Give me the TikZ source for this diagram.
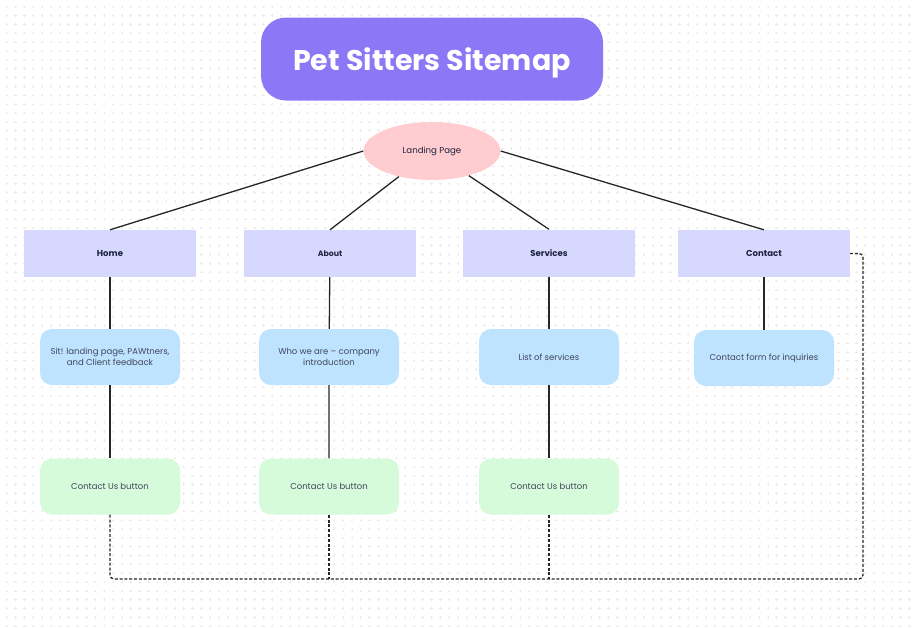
\documentclass[tikz,border=0pt]{standalone}
\usepackage{fontspec}
\setmainfont{Poppins}
\usetikzlibrary{shapes,positioning,calc}

\definecolor{titlebg}{HTML}{8C77F7}
\definecolor{landbg}{HTML}{FFCCD0}
\definecolor{pagebg}{HTML}{D6D8FE}
\definecolor{infobg}{HTML}{BEE3FE}
\definecolor{btnbg}{HTML}{D5FBDA}
\definecolor{gridcol}{HTML}{EAEAEA}
\definecolor{inktext}{HTML}{1F2340}

\begin{document}
\begin{tikzpicture}[x=1pt,y=-1pt]
  \tikzset{
    sitetitle/.style={rectangle,rounded corners=25pt,fill=titlebg,minimum width=342pt,minimum height=83pt,text depth=0pt,text=white,font=\fontsize{28.5}{32}\selectfont\bfseries},
    landing/.style={ellipse,fill=landbg,minimum width=137pt,minimum height=58pt,inner sep=0pt,font=\fontsize{8.6}{10}\selectfont,text=inktext},
    page/.style={rectangle,fill=pagebg,minimum width=172pt,minimum height=47pt,font=\fontsize{8.6}{10}\selectfont\bfseries,text=inktext},
    info/.style={rectangle,rounded corners=12pt,fill=infobg,minimum width=140pt,minimum height=56pt,align=center,font=\fontsize{8.5}{11}\selectfont,text=inktext!85},
    btn/.style={info,fill=btnbg},
    link/.style={draw=black!85,line width=1.3pt},
    dashlink/.style={draw=black!85,line width=1.3pt,dash pattern=on 3pt off 1.8pt,rounded corners=4pt}
  }
  \useasboundingbox (0,0) rectangle (912,627);
  % dotted paper
  \foreach \j in {0,...,70}
    \draw[gridcol,line width=0.5pt,dash pattern=on 2.4pt off 6.45pt] (5.5,6.7+8.85*\j) -- (912,6.7+8.85*\j);
  \foreach \i in {0,...,103}
    \draw[gridcol,line width=0.5pt,dash pattern=on 2.4pt off 6.45pt] (6.7+8.85*\i,5.5) -- (6.7+8.85*\i,627);

  \node[sitetitle] (title) at (432,59) {Pet Sitters Sitemap};
  \node[landing] (land) at (432,151) {Landing Page};

  \node[page] (home) at (110,253.5) {Home};
  \node[page,font=\fontsize{7.8}{9}\selectfont\bfseries] (about) at (330,253.5) {About};
  \node[page] (serv) at (549,253) {Services};
  \node[page] (contact) at (764,253.5) {Contact};

  \node[info] (homeinfo) at (110,357) {Sit! landing page, PAWtners,\\and Client feedback};
  \node[info] (aboutinfo) at (329,357) {Who we are -- company\\introduction};
  \node[info] (servinfo) at (549,357) {List of services};
  \node[info] (contactinfo) at (764,358) {Contact form for inquiries};

  \node[btn] (homebtn) at (110,486.5) {Contact Us button};
  \node[btn] (aboutbtn) at (329,486.5) {Contact Us button};
  \node[btn] (servbtn) at (549,486.5) {Contact Us button};

  \coordinate (busend) at (863,579);

  \draw[link] (land.west) -- (home.north);
  \draw[link] (land) -- (about.north);
  \draw[link] (land) -- (serv.north);
  \draw[link] (land.east) -- (contact.north);

  \draw[link] (home) -- (homeinfo) -- (homebtn);
  \draw[link] (about) -- (aboutinfo) -- (aboutbtn);
  \draw[link] (serv) -- (servinfo) -- (servbtn);
  \draw[link] (contact) -- (contactinfo);

  \draw[dashlink] (homebtn.south) |- (busend) |- (contact.east);
  \draw[dashlink] (aboutbtn.south) -- (aboutbtn.south |- busend);
  \draw[dashlink] (servbtn.south) -- (servbtn.south |- busend);
\end{tikzpicture}
\end{document}
